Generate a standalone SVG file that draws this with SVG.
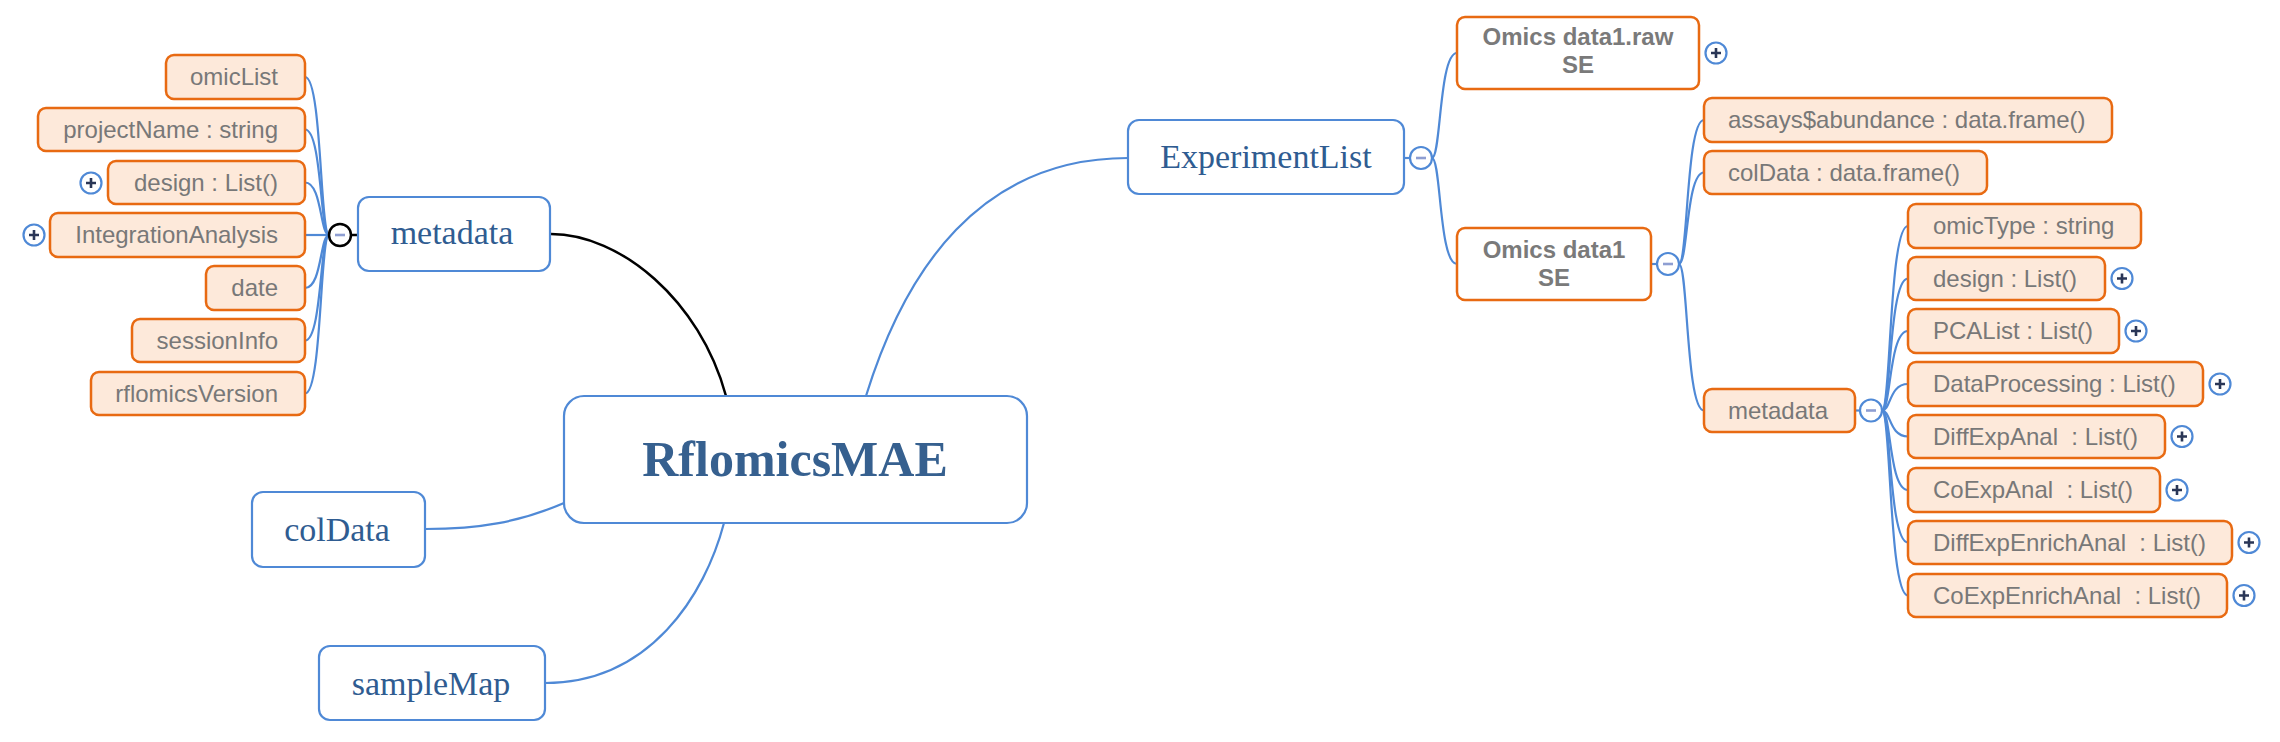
<svg xmlns="http://www.w3.org/2000/svg" width="2280" height="742" viewBox="0 0 2280 742">
<style>
.bg{fill:#ffffff}
.bnode{fill:#ffffff;stroke:#4F89D6;stroke-width:2.2}
.onode{fill:#FDE9DA;stroke:#E86A12;stroke-width:2.5}
.oframe{fill:#ffffff;stroke:#E86A12;stroke-width:2.5}
.serif{font-family:"Liberation Serif","Times New Roman",serif;font-size:34px;fill:#2F5C91;text-anchor:middle}
.title{font-family:"Liberation Serif","Times New Roman",serif;font-size:50px;font-weight:bold;fill:#36608F;text-anchor:middle}
.lab{font-family:"Liberation Sans",Arial,sans-serif;font-size:24px;fill:#787878;white-space:pre}
.labL{text-anchor:end}
.bold{font-family:"Liberation Sans",Arial,sans-serif;font-size:24px;font-weight:bold;fill:#7A7A7A;text-anchor:middle}
.conn{fill:none;stroke:#4F89D6;stroke-width:2.2}
.connK{fill:none;stroke:#000000;stroke-width:2.5}
.plusC{fill:#ffffff;stroke:#4F89D6;stroke-width:2.2}
.plusS{stroke:#2A3656;stroke-width:2.6;fill:none}
.minC{fill:#ffffff;stroke:#4F89D6;stroke-width:2.2}
.minCK{fill:#ffffff;stroke:#000000;stroke-width:2.5}
.minS{stroke:#8E9ED2;stroke-width:2.6;fill:none}
</style>
<defs>
<g id="plus"><circle r="10.5" class="plusC"/><path d="M-5 0H5M0 -5V5" class="plusS"/></g>
<g id="minus"><circle r="11" class="minC"/><path d="M-5 0H5" class="minS"/></g>
<g id="minusK"><circle r="11" class="minCK"/><path d="M-5 0H5" class="minS"/></g>
</defs>
<rect class="bg" x="0" y="0" width="2280" height="742"/>

<g id="connectors">
  <!-- root branches -->
  <path class="connK" d="M551 234 C620 234 700 300 726 396"/>
  <path class="conn" d="M866 396 C905 270 980 158 1128 158"/>
  <path class="conn" d="M564 503 C520 522 480 529 425 529"/>
  <path class="conn" d="M724 523 C705 595 650 683 545 683"/>
  <!-- metadata (left) -->
  <path class="connK" d="M351 235 H358"/>
  <path class="conn" d="M329 235 C320 235 322 77 305 77"/>
  <path class="conn" d="M329 235 C320 235 322 129.5 305 129.5"/>
  <path class="conn" d="M329 235 C320 235 322 182.5 305 182.5"/>
  <path class="conn" d="M329 235 H305"/>
  <path class="conn" d="M329 235 C320 235 322 288 305 288"/>
  <path class="conn" d="M329 235 C320 235 322 340.5 305 340.5"/>
  <path class="conn" d="M329 235 C320 235 322 393.5 305 393.5"/>
  <!-- ExperimentList -->
  <path class="conn" d="M1404 158 H1410"/>
  <path class="conn" d="M1432 158 C1441 158 1439 53 1457 53"/>
  <path class="conn" d="M1432 158 C1441 158 1439 264 1457 264"/>
  <!-- Omics data1 -->
  <path class="conn" d="M1651 264 H1657"/>
  <path class="conn" d="M1679 264 C1688 264 1686 120 1704 120"/>
  <path class="conn" d="M1679 264 C1688 264 1686 172.5 1704 172.5"/>
  <path class="conn" d="M1679 264 C1688 264 1686 410.5 1704 410.5"/>
  <!-- metadata (right) -->
  <path class="conn" d="M1855 410.5 H1860"/>
  <path class="conn" d="M1882 410.5 C1891 410.5 1889 226 1908 226"/>
  <path class="conn" d="M1882 410.5 C1891 410.5 1889 278.5 1908 278.5"/>
  <path class="conn" d="M1882 410.5 C1891 410.5 1889 331 1908 331"/>
  <path class="conn" d="M1882 410.5 C1891 410.5 1889 384 1908 384"/>
  <path class="conn" d="M1882 410.5 C1891 410.5 1889 436.5 1908 436.5"/>
  <path class="conn" d="M1882 410.5 C1891 410.5 1889 490 1908 490"/>
  <path class="conn" d="M1882 410.5 C1891 410.5 1889 542.5 1908 542.5"/>
  <path class="conn" d="M1882 410.5 C1891 410.5 1889 595.5 1908 595.5"/>
</g>

<g id="root"><rect class="bnode" x="564" y="396" width="463" height="127" rx="20"/><text class="title" x="795" y="476">RflomicsMAE</text></g>
<g id="metadata"><rect class="bnode" x="358" y="197" width="192" height="74" rx="11"/><text class="serif" x="452" y="244">metadata</text><use href="#minusK" x="340" y="235"/></g>
<g id="colData"><rect class="bnode" x="252" y="492" width="173" height="75" rx="11"/><text class="serif" x="337" y="541">colData</text></g>
<g id="sampleMap"><rect class="bnode" x="319" y="646" width="226" height="74" rx="11"/><text class="serif" x="431" y="695">sampleMap</text></g>
<g id="experimentList"><rect class="bnode" x="1128" y="120" width="276" height="74" rx="11"/><text class="serif" x="1266" y="168">ExperimentList</text><use href="#minus" x="1421" y="158"/></g>

<g id="m-omicList"><rect class="onode" x="166" y="55" width="139" height="44" rx="8"/><text class="lab labL" x="278" y="85">omicList</text></g>
<g id="m-projectName"><rect class="onode" x="38" y="108" width="267" height="43" rx="8"/><text class="lab labL" x="278" y="138">projectName : string</text></g>
<g id="m-design"><rect class="onode" x="108" y="161" width="197" height="43" rx="8"/><text class="lab labL" x="278" y="191">design : List()</text><use href="#plus" x="91" y="183"/></g>
<g id="m-integration"><rect class="onode" x="50" y="213" width="255" height="44" rx="8"/><text class="lab labL" x="278" y="243">IntegrationAnalysis</text><use href="#plus" x="34" y="235"/></g>
<g id="m-date"><rect class="onode" x="206" y="266" width="99" height="44" rx="8"/><text class="lab labL" x="278" y="296">date</text></g>
<g id="m-sessionInfo"><rect class="onode" x="132" y="319" width="173" height="43" rx="8"/><text class="lab labL" x="278" y="349">sessionInfo</text></g>
<g id="m-rflomicsVersion"><rect class="onode" x="91" y="372" width="214" height="43" rx="8"/><text class="lab labL" x="278" y="402">rflomicsVersion</text></g>

<g id="omicsRaw"><rect class="oframe" x="1457" y="17" width="242" height="72" rx="8"/><text class="bold" x="1578" y="45">Omics data1.raw</text><text class="bold" x="1578" y="73">SE</text><use href="#plus" x="1716" y="53"/></g>
<g id="omicsData1"><rect class="oframe" x="1457" y="228" width="194" height="72" rx="8"/><text class="bold" x="1554" y="258">Omics data1</text><text class="bold" x="1554" y="286">SE</text><use href="#minus" x="1668" y="264"/></g>

<g id="assays"><rect class="onode" x="1704" y="98" width="408" height="44" rx="8"/><text class="lab" x="1728" y="128">assays$abundance : data.frame()</text></g>
<g id="colDataDF"><rect class="onode" x="1704" y="151" width="283" height="43" rx="8"/><text class="lab" x="1728" y="181">colData : data.frame()</text></g>
<g id="seMetadata"><rect class="onode" x="1704" y="389" width="151" height="43" rx="8"/><text class="lab" x="1728" y="419">metadata</text><use href="#minus" x="1871" y="410.5"/></g>

<g id="omicType"><rect class="onode" x="1908" y="204" width="233" height="44" rx="8"/><text class="lab" x="1933" y="234">omicType : string</text></g>
<g id="seDesign"><rect class="onode" x="1908" y="257" width="197" height="43" rx="8"/><text class="lab" x="1933" y="287">design : List()</text><use href="#plus" x="2122" y="278.5"/></g>
<g id="pcaList"><rect class="onode" x="1908" y="309" width="211" height="44" rx="8"/><text class="lab" x="1933" y="339">PCAList : List()</text><use href="#plus" x="2136" y="331"/></g>
<g id="dataProcessing"><rect class="onode" x="1908" y="362" width="295" height="44" rx="8"/><text class="lab" x="1933" y="392">DataProcessing : List()</text><use href="#plus" x="2220" y="384"/></g>
<g id="diffExpAnal"><rect class="onode" x="1908" y="415" width="257" height="43" rx="8"/><text class="lab" x="1933" y="445">DiffExpAnal  : List()</text><use href="#plus" x="2182" y="436.5"/></g>
<g id="coExpAnal"><rect class="onode" x="1908" y="468" width="252" height="44" rx="8"/><text class="lab" x="1933" y="498">CoExpAnal  : List()</text><use href="#plus" x="2177" y="490"/></g>
<g id="diffExpEnrichAnal"><rect class="onode" x="1908" y="521" width="324" height="43" rx="8"/><text class="lab" x="1933" y="551">DiffExpEnrichAnal  : List()</text><use href="#plus" x="2249" y="542.5"/></g>
<g id="coExpEnrichAnal"><rect class="onode" x="1908" y="574" width="319" height="43" rx="8"/><text class="lab" x="1933" y="604">CoExpEnrichAnal  : List()</text><use href="#plus" x="2244" y="595.5"/></g>
</svg>
